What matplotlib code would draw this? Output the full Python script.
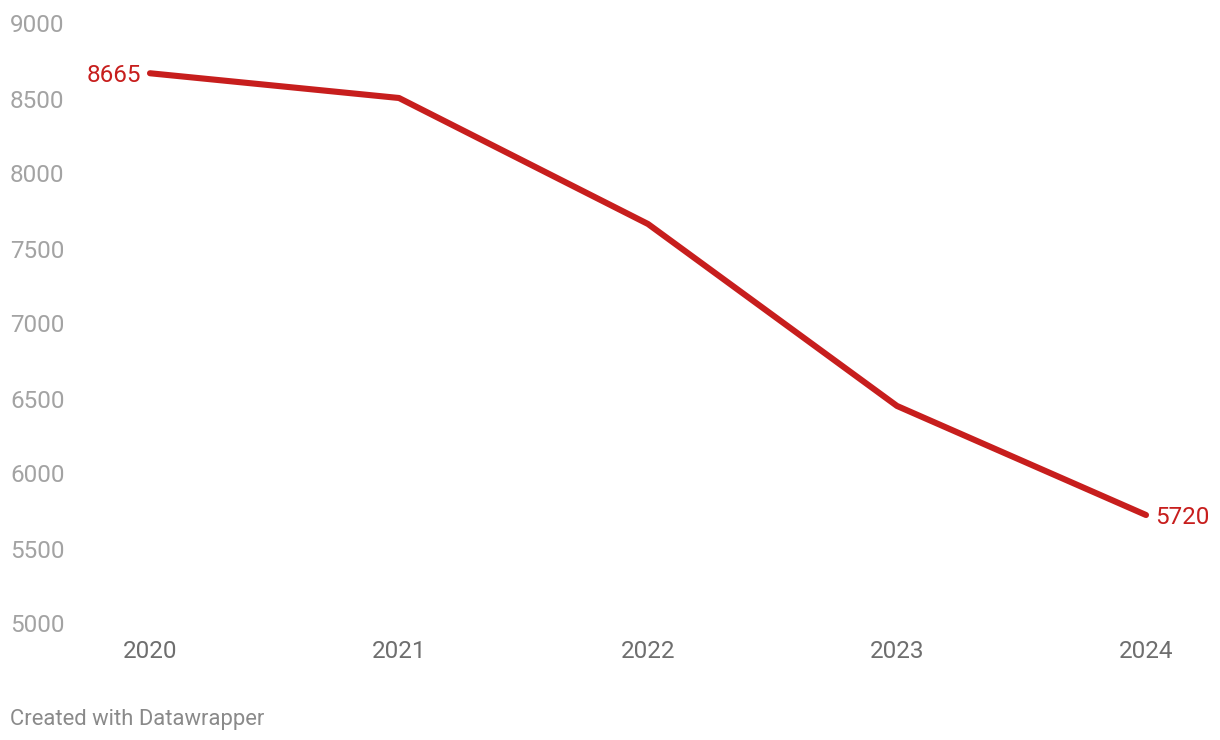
import matplotlib.pyplot as plt
from matplotlib.transforms import blended_transform_factory, offset_copy

plt.rcParams['font.family'] = ['Roboto', 'DejaVu Sans']

# data
years = [2020, 2021, 2022, 2023, 2024]
values = [8665, 8500, 7660, 6447, 5720]
y_ticks = [5000, 5500, 6000, 6500, 7000, 7500, 8000, 8500, 9000]

RED = '#c71e1d'
FS = 17.5

fig = plt.figure(figsize=(12.2, 7.4), dpi=100)
W, H = 1220, 740
ax = fig.add_axes([150 / W, (H - 623) / H, (1146 - 150) / W, 600 / H])
ax.set_xlim(2020, 2024)
ax.set_ylim(5000, 9000)
ax.axis('off')

ax.plot(years, values, color=RED, lw=4.4, solid_capstyle='round',
        solid_joinstyle='round', clip_on=False)

# end labels
ax.text(years[0], values[0], f'{values[0]}', color=RED, fontsize=FS,
        ha='right', va='center',
        transform=offset_copy(ax.transData, fig, x=-9, y=-2, units='dots'))
ax.text(years[-1], values[-1], f'{values[-1]}', color=RED, fontsize=FS,
        ha='left', va='center',
        transform=offset_copy(ax.transData, fig, x=9, y=-2, units='dots'))

# y tick labels, left aligned at figure edge
ytrans = offset_copy(blended_transform_factory(fig.transFigure, ax.transData),
                     fig, x=0, y=-3, units='dots')
for t in y_ticks:
    ax.text(10 / W, t, str(t), color='#a3a3a3', fontsize=FS,
            ha='left', va='center', transform=ytrans)

# x tick labels
xtrans = blended_transform_factory(ax.transData, fig.transFigure)
for yr in years:
    ax.text(yr, (H - 652) / H, str(yr), color='#6e6e6e', fontsize=FS,
            ha='center', va='center', transform=xtrans)

fig.text(10 / W, (H - 719) / H, 'Created with Datawrapper', color='#8a8a8a',
         fontsize=15.8, ha='left', va='center')

fig.savefig('out.png', dpi=100, facecolor='white')
